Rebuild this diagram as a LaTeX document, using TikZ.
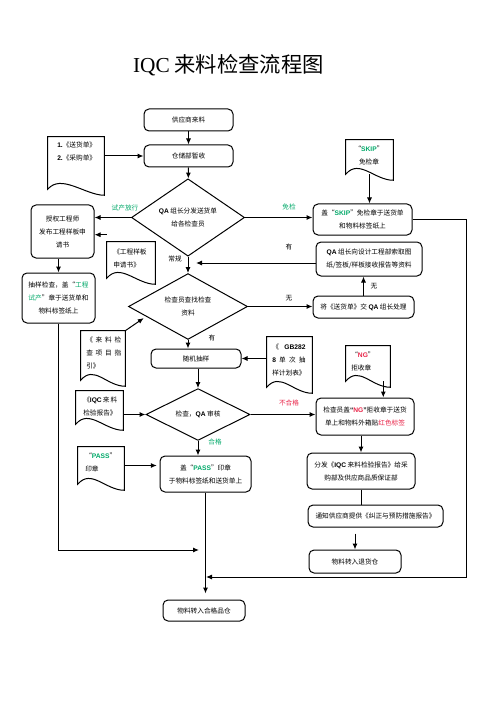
\documentclass[tikz,border=0pt]{standalone}
\usepackage{fontspec}
\setmainfont{Noto Sans CJK SC}
\newfontfamily\lat{Liberation Sans}
\newfontfamily\titlelat{Liberation Serif}
\usepackage{tikz}
\usetikzlibrary{shapes.geometric,arrows.meta,calc}
\definecolor{qgreen}{RGB}{0,168,104}
\definecolor{qred}{RGB}{232,36,72}
\newcommand{\docframe}[1]{\draw[line width=0.75pt] (#1.south west) -- (#1.north west) -- (#1.north east) -- ([yshift=4.5pt]#1.south east) .. controls ([xshift=-14pt,yshift=4.5pt]#1.south east) and ([xshift=10pt,yshift=-12pt]#1.south west) .. (#1.south west) -- cycle;}

\begin{document}
\begin{tikzpicture}[x=0.75pt,y=0.75pt,yscale=-1,xscale=1,
  every node/.style={font=\fontsize{5}{9.75}\selectfont},
  proc/.style={draw,rounded corners=3.75pt,line width=0.75pt,align=center,inner sep=1pt},
  dec/.style={draw,diamond,line width=0.75pt,align=center,inner sep=0pt},
  docbox/.style={inner sep=0pt},
  tag/.style={inner sep=0.75pt,align=left},
  arr/.style={line width=0.75pt,-{Latex[length=4.5pt,width=3.75pt]}},
  ln/.style={line width=0.75pt}]
\useasboundingbox (0,0) rectangle (496,702);

% Text Node
\node[font=\fontsize{16}{19}\selectfont] (title) at (228.5,65) {{\titlelat IQC} 来料检查流程图};

%Rounded Rect
\node[proc,minimum width=66.75pt,minimum height=16.5pt] (supplier) at (188.5,120) {供应商来料};
\node[proc,minimum width=66.75pt,minimum height=16.5pt] (store) at (188.5,156) {仓储部暂收};
\node[proc,minimum width=74.25pt,minimum height=23.25pt] (skipbox) at (362.5,219.5) {盖“{\lat\bfseries\color{qgreen}SKIP}”免检章于送货单\\和物料标签纸上};
\node[proc,minimum width=47.25pt,minimum height=39.75pt] (auth) at (62.5,231.5) {授权工程师\\发布工程样板申\\请书};
\node[proc,minimum width=79.5pt,minimum height=25.5pt] (qabox) at (369,259) {{\lat\bfseries QA} 组长向设计工程部索取图\\纸/签板/样板接收报告等资料};
\node[proc,minimum width=75.75pt,minimum height=16.5pt] (handbox) at (363.5,307) {将《送货单》交 {\lat\bfseries QA} 组长处理};
\node[proc,minimum width=54.75pt,minimum height=37.5pt] (sampbox) at (58.5,298) {抽样检查，盖“\textcolor{qgreen}{工程}\\\textcolor{qgreen}{试产}”章于送货单和\\物料标签纸上};
\node[proc,minimum width=67.5pt,minimum height=14.25pt] (randbox) at (196,358.5) {随机抽样};
\node[proc,minimum width=73.5pt,minimum height=27.75pt] (ngbox) at (365,416.5) {检查员盖{\lat\bfseries “\textcolor{qred}{NG}”}拒收章于送货\\单上和物料外箱贴\textcolor{qred}{红色标签}};
\node[proc,minimum width=68.25pt,minimum height=27pt] (passbox) at (205.5,474) {盖“{\lat\bfseries\color{qgreen}PASS}”印章\\于物料标签纸和送货单上};
\node[proc,minimum width=81pt,minimum height=27pt] (distbox) at (361,471) {分发《{\lat\bfseries IQC} 来料检验报告》给采\\购部及供应商品质保证部};
\node[proc,minimum width=101.25pt,minimum height=16.5pt] (notebox) at (375.5,516) {通知供应商提供《纠正与预防措施报告》};
\node[proc,minimum width=69pt,minimum height=17.25pt] (retbox) at (355,561.5) {物料转入退货仓};
\node[proc,minimum width=61.5pt,minimum height=15.75pt] (okbox) at (204,610.5) {物料转入合格品仓};

%Shape: Diamond
\node[dec,minimum width=84.75pt,minimum height=45.75pt] (d1) at (188,217.5) {{\lat\bfseries QA} 组长分发送货单\\给各检查员};
\node[dec,minimum width=89.25pt,minimum height=44.25pt] (d2) at (188,306.5) {检查员查找检查\\资料};
\node[dec,minimum width=78pt,minimum height=33.75pt] (d3) at (198,414.5) {检查，{\lat\bfseries QA} 审核};

%Shape: Document
\node[docbox,minimum width=42pt,minimum height=39pt] (sdoc) at (76,163) {};
\docframe{sdoc}
\node[docbox,minimum width=35.25pt,minimum height=25.5pt] (skipdoc) at (369.5,157) {};
\docframe{skipdoc}
\node[docbox,minimum width=36pt,minimum height=27pt] (engdoc) at (131,260) {};
\docframe{engdoc}
\node[docbox,minimum width=33pt,minimum height=36.75pt] (guidedoc) at (103,355.5) {};
\docframe{guidedoc}
\node[docbox,minimum width=33.75pt,minimum height=37.5pt] (gbdoc) at (289.5,362) {};
\docframe{gbdoc}
\node[docbox,minimum width=35.25pt,minimum height=24.75pt] (iqcdoc) at (99.5,407.5) {};
\docframe{iqcdoc}
\node[docbox,minimum width=33pt,minimum height=26.25pt] (ngdoc) at (368,363.5) {};
\docframe{ngdoc}
\node[docbox,minimum width=34.5pt,minimum height=27.75pt] (passdoc) at (101,465.5) {};
\docframe{passdoc}

% Text Node
\node[tag,anchor=west] (sdoct) at (56,151.5) {{\lat\bfseries 1.}《送货单》\\{\lat\bfseries 2.}《采购单》};
% Text Node
\node[tag,align=center] (skipdoct) at (369,155.5) {“{\lat\bfseries\color{qgreen}SKIP}”\\免检章};
% Text Node
\node[tag,anchor=west] (engdoct) at (112,258) {《工程样板\\申请书》};
% Text Node
\node[tag,anchor=west] (guidedoct) at (85,353) {\makebox[26.25pt][s]{《 来 料 检}\\\makebox[26.25pt][s]{查 项 目 指}\\引》};
% Text Node
\node[tag,anchor=west] (gbdoct) at (271,359.5) {\makebox[25pt][s]{《 {\lat\bfseries GB282}}\\\makebox[25pt][s]{{\lat\bfseries 8} 单 次 抽}\\样计划表》};
% Text Node
\node[tag,anchor=west] (iqcdoct) at (82,406) {\makebox[25.5pt][s]{《{\lat\bfseries IQC} 来 料}\\检验报告》};
% Text Node
\node[tag,anchor=west] (ngdoct) at (350,361.5) {“{\lat\bfseries\color{qred}NG}”\\拒收章};
% Text Node
\node[tag,anchor=west] (passdoct) at (84,462.5) {“{\lat\bfseries\color{qgreen}PASS}”\\印章};

%Straight Lines
\draw[arr] (supplier) -- (store);
\draw[arr] (sdoc.east |- store.west) -- (store.west);
\draw[arr] (store) -- (d1);
\draw[arr] (d1.west) -- (d1.west -| auth.east);
\coordinate (e1) at ([yshift=-5.25pt]engdoc.north west);
\draw[arr] (e1) -- (e1 -| auth.east);
\draw[arr] (d1.east) -- (d1.east -| skipbox.west);
\draw[arr] (skipdoc.south) -- (skipdoc.south |- skipbox.north);
\coordinate (rj) at (206,577);
\draw[arr] (skipbox.east) -- ++(54,0) |- (rj);
\draw[arr] (d1) -- (d2);
\coordinate (q1) at (196,263);
\draw[arr] (qabox.west |- q1) -- (q1);
\draw[arr] (d2.east) -- (d2.east -| handbox.west);
\draw[arr] (handbox.north) -- (handbox.north |- qabox.south);
\draw[arr,shorten >=2pt] (guidedoc.north east) -- ($(d2.west)!0.3!(d2.south)$);
\draw[arr] (d2.south) -- (d2.south |- randbox.north);
\draw[arr] (gbdoc.west |- randbox.east) -- (randbox.east);
\draw[arr] (d3.north |- randbox.south) -- (d3.north);
\draw[arr] (iqcdoc.east |- d3.west) -- (d3.west);
\draw[arr] (d3.east) -- (d3.east -| ngbox.west);
\coordinate (n1) at ([xshift=-5.25pt]ngdoc.south east);
\draw[arr] (n1) -- (n1 |- ngbox.north);
\draw[arr] (d3.south) -- (d3.south |- passbox.north);
\draw[arr,shorten >=2pt] (passdoc.east) -- (passdoc.east -| passbox.west);
\draw[arr] (distbox.north |- ngbox.south) -- (distbox.north);
\draw[ln] (distbox.south) -- (distbox.south |- notebox.north);
\draw[arr] (retbox.north |- notebox.south) ++(0,6) -- (retbox.north);
\draw[arr,shorten >=4.5pt] (passbox.south) -- (passbox.south |- okbox.north);
\draw[arr] (sampbox.north |- auth.south) -- (sampbox.north);
\coordinate (lj) at (199,550);
\draw[arr] (sampbox.south) |- (lj);

% Text Node
\node[tag,text=qgreen] (lbtry) at (125,208) {试产放行};
\node[tag,text=qgreen] (lbskip) at (289,207) {免检};
\node[tag] (lbnorm) at (175,259) {常规};
\node[tag] (lbhas1) at (289,247) {有};
\node[tag] (lbnone1) at (289,298) {无};
\node[tag] (lbnone2) at (374,286) {无};
\node[tag] (lbhas2) at (212,338) {有};
\node[tag,text=qred] (lbng) at (289,403) {不合格};
\node[tag,text=qgreen] (lbok) at (215,442) {合格};

\end{tikzpicture}
\end{document}
